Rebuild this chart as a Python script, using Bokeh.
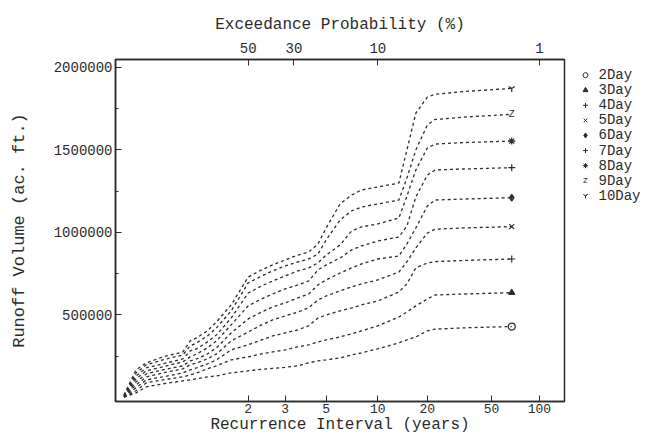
import numpy as np
from bokeh.plotting import figure
from bokeh.layouts import row
from bokeh.models import FixedTicker, LinearAxis, Range1d, BasicTickFormatter
from bokeh.embed import file_html
from bokeh.resources import INLINE
from bokeh.core.properties import value

# ---------------- data ----------------
recurrence_years = [1.015, 1.03, 1.05, 1.1, 1.2, 1.25, 1.3, 1.4, 1.5, 1.7, 2.0, 2.3, 2.6,
                    3.0, 3.5, 4.0, 4.5, 5.0, 6.0, 7.0, 8.0, 10.0, 13.4, 15.0, 17.0, 20.0,
                    22.3, 33.5, 67.0]

runoff_2day = [2000, 28000, 65000, 83000, 101000, 107000, 113000, 125000, 131000, 149000,
               162000, 171000, 177000, 183000, 192000, 210000, 222000, 228000, 240000,
               258000, 270000, 295000, 331000, 349000, 367000, 404000, 414000, 422000, 430000]
runoff_3day = [3000, 41000, 89000, 107000, 125000, 137000, 149000, 174000, 192000, 228000,
               246000, 264000, 276000, 289000, 307000, 319000, 337000, 349000, 367000,
               385000, 404000, 434000, 488000, 518000, 555000, 597000, 621000, 627000, 635000]
runoff_4day = [4000, 59000, 107000, 125000, 149000, 168000, 180000, 204000, 228000, 289000,
               319000, 349000, 373000, 391000, 410000, 434000, 482000, 500000, 525000,
               543000, 561000, 585000, 639000, 688000, 785000, 815000, 823000, 830000, 839000]
runoff_5day = [5000, 77000, 125000, 149000, 174000, 198000, 210000, 234000, 264000, 343000,
               397000, 440000, 470000, 494000, 518000, 543000, 591000, 615000, 646000,
               670000, 688000, 712000, 760000, 821000, 906000, 996000, 1019000, 1027000, 1035000]
runoff_6day = [6000, 95000, 143000, 168000, 192000, 222000, 234000, 264000, 301000, 391000,
               476000, 518000, 549000, 573000, 603000, 627000, 682000, 712000, 754000,
               785000, 809000, 839000, 857000, 930000, 1027000, 1160000, 1196000, 1202000, 1210000]
runoff_7day = [8000, 113000, 162000, 186000, 216000, 246000, 264000, 301000, 343000, 440000,
               555000, 597000, 627000, 658000, 682000, 706000, 773000, 803000, 845000,
               894000, 918000, 948000, 972000, 1039000, 1214000, 1347000, 1378000, 1384000, 1392000]
runoff_8day = [10000, 131000, 180000, 204000, 234000, 283000, 295000, 337000, 379000, 482000,
               633000, 676000, 706000, 736000, 767000, 785000, 815000, 863000, 924000,
               1009000, 1033000, 1051000, 1087000, 1220000, 1378000, 1511000, 1535000, 1544000, 1553000]
runoff_9day = [12000, 149000, 198000, 228000, 258000, 313000, 331000, 373000, 422000, 525000,
               694000, 736000, 767000, 797000, 821000, 839000, 869000, 954000, 1075000,
               1130000, 1154000, 1172000, 1196000, 1329000, 1499000, 1650000, 1684000, 1698000, 1715000]
runoff_10day = [15000, 168000, 210000, 246000, 276000, 343000, 361000, 404000, 458000, 561000,
                730000, 773000, 803000, 833000, 863000, 881000, 930000, 1027000, 1172000,
                1226000, 1257000, 1275000, 1299000, 1499000, 1722000, 1819000, 1836000, 1853000, 1872000]

series_names = ["2Day", "3Day", "4Day", "5Day", "6Day", "7Day", "8Day", "9Day", "10Day"]
series_values = [runoff_2day, runoff_3day, runoff_4day, runoff_5day, runoff_6day,
                 runoff_7day, runoff_8day, runoff_9day, runoff_10day]
end_markers = ["circle", "triangle", "cross", "x", "diamond_cross", "cross", "asterisk", None, "y"]

bottom_tick_years = [2, 3, 5, 10, 20, 50, 100]
top_tick_percent = [50, 30, 10, 1]
y_ticks = [500000, 1000000, 1500000, 2000000]
y_minor_ticks = [250000, 750000, 1250000, 1750000]

FONT = "Liberation Mono"
INK = "#2b2b2b"


def gumbel(T):
    T = np.asarray(T, dtype=float)
    return -np.log(-np.log(1.0 - 1.0 / T))


x_vals = gumbel(recurrence_years)
y_rng = Range1d(-24000, 2047000)

p = figure(width=566, height=436, output_backend="svg", toolbar_location=None,
           x_range=Range1d(-1.562, 4.964), y_range=y_rng,
           min_border_left=115, min_border_right=2, min_border_top=59, min_border_bottom=30)
p.xgrid.visible = False
p.ygrid.visible = False
p.outline_line_color = INK
p.outline_line_width = 1.5
p.background_fill_color = "white"
p.border_fill_color = "white"

# bottom axis (recurrence interval, Gumbel scale)
bx = [round(float(v), 6) for v in gumbel(bottom_tick_years)]
xa = p.xaxis[0]
xa.ticker = FixedTicker(ticks=bx, minor_ticks=[])
xa.major_label_overrides = {v: str(t) for v, t in zip(bx, bottom_tick_years)}
xa.axis_label = "Recurrence Interval (years)"

# top axis (exceedance probability)
tx = [round(float(v), 6) for v in gumbel([100.0 / q for q in top_tick_percent])]
top = LinearAxis(ticker=FixedTicker(ticks=tx, minor_ticks=[]),
                 major_label_overrides={v: str(q) for v, q in zip(tx, top_tick_percent)},
                 axis_label="Exceedance Probability (%)")
p.add_layout(top, "above")

ya = p.yaxis[0]
ya.ticker = FixedTicker(ticks=y_ticks, minor_ticks=y_minor_ticks)
ya.formatter = BasicTickFormatter(use_scientific=False)
ya.axis_label = "Runoff Volume (ac. ft.)"

for ax in [xa, top, ya]:
    ax.axis_line_color = INK
    ax.axis_line_width = 1.5
    ax.major_tick_line_color = INK
    ax.major_tick_in = 6
    ax.major_tick_out = 0
    ax.minor_tick_line_color = INK
    ax.minor_tick_in = 3
    ax.minor_tick_out = 0
    ax.major_label_text_font = FONT
    ax.major_label_text_font_size = "14px"
    ax.major_label_text_color = INK
    ax.axis_label_text_font = FONT
    ax.axis_label_text_font_style = "normal"
    ax.axis_label_text_color = INK
    ax.axis_label_text_font_size = "16px"
    ax.major_label_standoff = 3

xa.major_label_text_font_size = "13px"
xa.major_label_standoff = 2
xa.axis_label_standoff = 0
top.major_label_standoff = 7
top.axis_label_standoff = 6
ya.axis_label_standoff = 22
ya.axis_label_text_font_size = "17px"

# curves
for name, vals, mk in zip(series_names, series_values, end_markers):
    p.line(x_vals, vals, line_color=INK, line_width=1.3, line_dash="3 3")
    if mk is not None:
        p.scatter([x_vals[-1]], [vals[-1]], marker=mk, size=6 if mk == "triangle" else 7,
                  line_color=INK, fill_color=INK if mk == "triangle" else None, line_width=1.2)
    else:
        p.text([x_vals[-1]], [vals[-1]], text=["Z"], text_font=value(FONT),
               text_font_size="10px", text_color=INK, text_align="center",
               text_baseline="middle")

# legend panel: a small figure to the right whose frame is aligned with the main frame
leg = figure(width=96, height=436, output_backend="svg", toolbar_location=None,
             x_range=Range1d(0, 96), y_range=y_rng,
             x_axis_type=None, y_axis_type=None, min_border=0)
leg.xgrid.visible = False
leg.ygrid.visible = False
leg.outline_line_color = None
leg.border_fill_color = "white"
leg.background_fill_color = "white"

leg_sym_x = 19
leg_txt_x = 32
for i, (name, mk) in enumerate(zip(series_names, end_markers)):
    yy = (397.7 - (75 + 15.1 * i)) * 6050   # row position converted to the shared y scale
    if mk is not None:
        leg.scatter([leg_sym_x], [yy], marker=mk, size=5, line_color=INK,
                    fill_color=INK if mk == "triangle" else None, line_width=1)
    else:
        leg.text([leg_sym_x], [yy], text=["z"], text_font=value(FONT), text_font_size="9px",
                 text_color=INK, text_align="center", text_baseline="middle")
    leg.text([leg_txt_x], [yy], text=[name], text_font=value(FONT), text_font_size="14px",
             text_color=INK, text_align="left", text_baseline="middle")

open("out.html", "w").write(file_html(row(p, leg), INLINE))
